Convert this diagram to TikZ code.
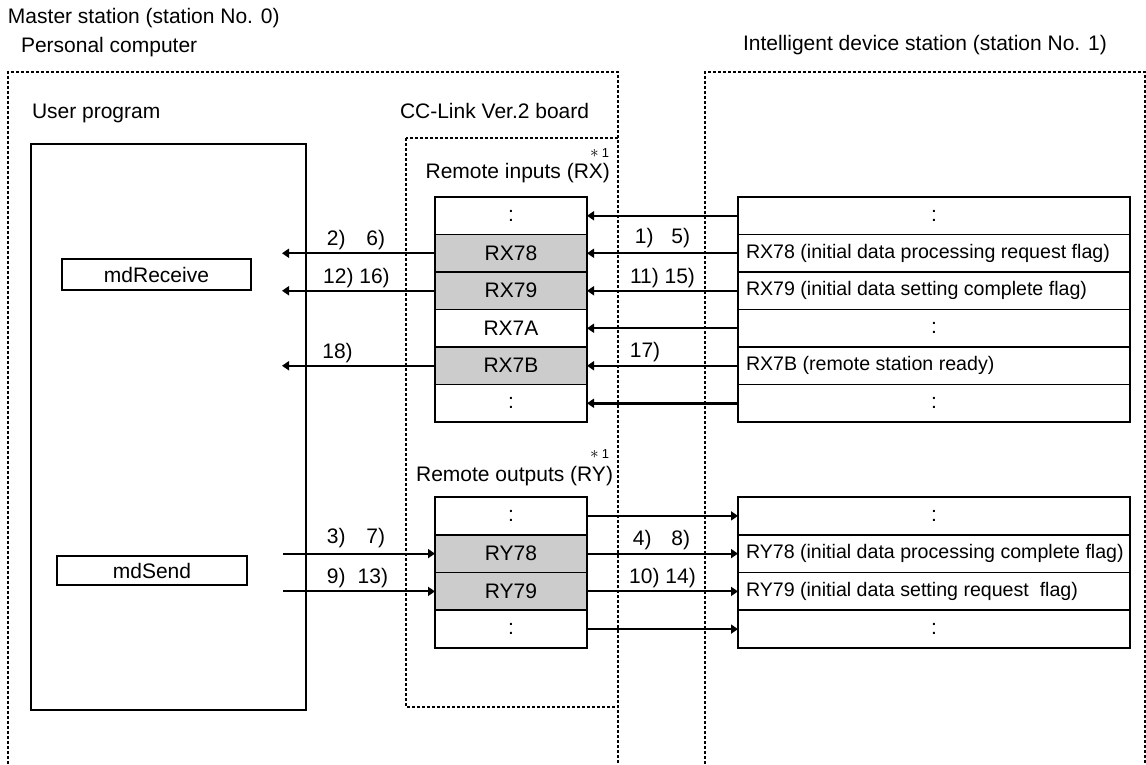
\documentclass[tikz,border=0pt]{standalone}
\usepackage{fontspec}
\setmainfont{Liberation Sans}
\usetikzlibrary{arrows.meta}
\definecolor{cellgray}{HTML}{CCCCCC}
\newcommand{\devtext}[1]{\makebox[376pt][l]{#1}}
\newcommand{\starone}{{\fontsize{17pt}{17pt}\selectfont$\ast$}\hspace{3pt}{\fontsize{13pt}{15pt}\selectfont 1}}
\begin{document}
\begin{tikzpicture}[x=1pt,y=-1pt,
  every node/.style={font=\fontsize{21pt}{25pt}\selectfont, inner sep=0pt, outer sep=0pt},
  dotbox/.style={line width=2pt, dash pattern=on 3pt off 2pt},
  cellw/.style={draw, line width=1.5pt, fill=white, minimum height=37.6pt},
  cellg/.style={cellw, fill=cellgray},
  midcell/.style={minimum width=152pt},
  devtxt/.style={minimum width=392pt, font=\fontsize{19.6pt}{23pt}\selectfont},
  devcol/.style={minimum width=392pt},
  arr/.style={line width=2pt, -{Triangle[length=7pt,width=9pt]}},
  arrb/.style={line width=3pt, -{Triangle[length=7pt,width=9pt]}},
  plainbox/.style={draw, line width=1.5pt}
]
\useasboundingbox (0,0) rectangle (1146,764);

% dotted enclosures
\draw[dotbox] (8,764) -- (8,72) -- (618,72) -- (618,764);
\draw[dotbox] (705,764) -- (705,72) -- (1145,72) -- (1145,764);
\draw[dotbox] (406,138) rectangle (618,707);

% titles
\node[anchor=west] (t1) at (8,18) {Master station (station No. 0)};
\node[anchor=west] (t2) at (21,47) {Personal computer};
\node[anchor=west] (t3) at (743,45) {Intelligent device station (station No. 1)};
\node[anchor=west] (t4) at (32,113) {User program};
\node[anchor=west] (t5) at (400,111) {CC-Link Ver.2 board};
\node[anchor=east] (t6) at (610,173) {Remote inputs (RX)};
\node[anchor=east] (s1) at (609,153) {\starone};
\node[anchor=east] (t7) at (613,476) {Remote outputs (RY)};
\node[anchor=east] (s2) at (609,454) {\starone};

% user program
\node[plainbox, minimum width=275pt, minimum height=566pt] (user) at (168.5,427) {};
\node[plainbox, minimum width=189pt, minimum height=31pt] (recv) at (156.5,274.5) {mdReceive};
\node[plainbox, minimum width=190pt, minimum height=29pt] (send) at (152,570.5) {mdSend};

% RX middle table
\node[cellw, midcell] (rx1) at (511,215.75) {:};
\node[cellg, midcell] (rx78) at (511,253.25) {RX78};
\node[cellg, midcell] (rx79) at (511,290.75) {RX79};
\node[cellw, midcell] (rx7a) at (511,328.25) {RX7A};
\node[cellg, midcell] (rx7b) at (511,365.75) {RX7B};
\node[cellw, midcell] (rx2) at (511,403.25) {:};

% RX device table
\node[cellw, devcol] (dx1) at (934,215.75) {:};
\node[cellw, devtxt] (dx78) at (934,253.25) {\devtext{RX78 (initial data processing request flag)}};
\node[cellw, devtxt] (dx79) at (934,290.75) {\devtext{RX79 (initial data setting complete flag)}};
\node[cellw, devcol] (dx7a) at (934,328.25) {:};
\node[cellw, devtxt] (dx7b) at (934,365.75) {\devtext{RX7B (remote station ready)}};
\node[cellw, devcol] (dx2) at (934,403.25) {:};

% RY middle table
\node[cellw, midcell] (ry1) at (511,515.9) {:};
\node[cellg, midcell] (ry78) at (511,553.6) {RY78};
\node[cellg, midcell] (ry79) at (511,591.4) {RY79};
\node[cellw, midcell] (ry2) at (511,629.1) {:};

% RY device table
\node[cellw, devcol] (dy1) at (934,515.9) {:};
\node[cellw, devtxt] (dy78) at (934,553.6) {\devtext{RY78 (initial data processing complete flag)}};
\node[cellw, devtxt] (dy79) at (934,591.4) {\devtext{RY79 (initial data setting request\ \ flag)}};
\node[cellw, devcol] (dy2) at (934,629.1) {:};

% free ends at user program
\coordinate (u78) at (282,253.25);
\coordinate (u79) at (282,290.75);
\coordinate (u7b) at (282,365.75);
\coordinate (v78) at (283,553.6);
\coordinate (v79) at (283,591.4);

% arrows RX
\draw[arr] (dx1.west) -- (rx1.east);
\draw[arr] (dx78.west) -- (rx78.east);
\draw[arr] (dx79.west) -- (rx79.east);
\draw[arr] (dx7a.west) -- (rx7a.east);
\draw[arr] (dx7b.west) -- (rx7b.east);
\draw[arrb] (dx2.west) -- (rx2.east);
\draw[arr] (rx78.west) -- (u78);
\draw[arr] (rx79.west) -- (u79);
\draw[arr] (rx7b.west) -- (u7b);

% arrows RY
\draw[arr] (ry1.east) -- (dy1.west);
\draw[arr] (ry78.east) -- (dy78.west);
\draw[arr] (ry79.east) -- (dy79.west);
\draw[arr] (ry2.east) -- (dy2.west);
\draw[arr] (v78) -- (ry78.west);
\draw[arr] (v79) -- (ry79.west);

% step labels
\node (l1) at (356,240) {2)\hspace{20.7pt}6)};
\node (l2) at (356.5,278) {12) 16)};
\node (l3) at (337.5,353) {18)};
\node (l4) at (356,538) {3)\hspace{20.7pt}7)};
\node (l5) at (357.5,578) {9)\hspace{12pt}13)};
\node (r1) at (662.5,238) {1)\hspace{17.7pt}5)};
\node (r2) at (662.5,278) {11) 15)};
\node (r3) at (645,352) {17)};
\node (r4) at (661.5,540) {4)\hspace{20pt}8)};
\node (r5) at (662.5,578) {10) 14)};
\end{tikzpicture}
\end{document}
